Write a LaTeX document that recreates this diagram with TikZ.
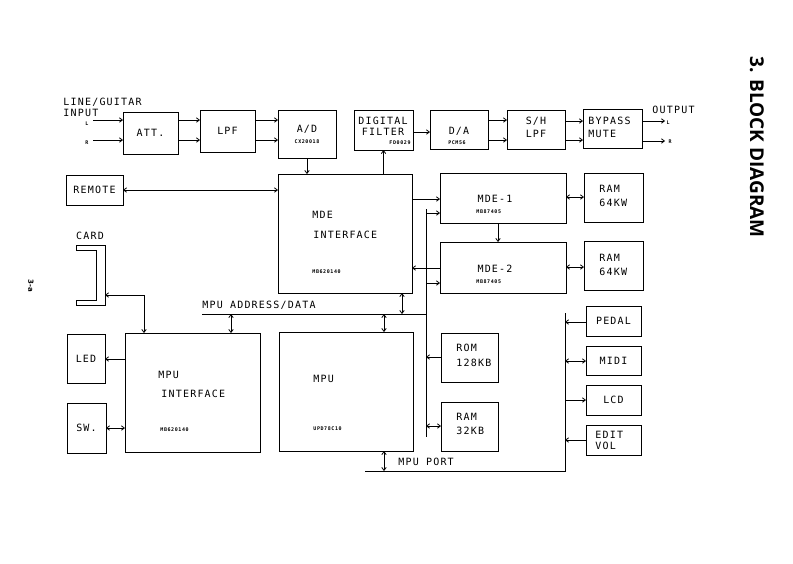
\documentclass[tikz,border=0pt]{standalone}
\usepackage{fontspec}
\usetikzlibrary{arrows.meta}
\newfontfamily\plotfont[LetterSpace=12]{DejaVu Sans Mono}
\newfontfamily\titlefont{Open Sans}
\newfontfamily\pagefont{DejaVu Sans}
\begin{document}
\begin{tikzpicture}[x=1pt,y=-1pt,
  >={Straight Barb[length=3pt,width=4.5pt]},
  box/.style={draw, line width=0.8pt, inner sep=0pt, outer sep=0pt, anchor=north west},
  lbl/.style={font=\plotfont\fontsize{10}{10}\selectfont, inner sep=0pt},
  chip/.style={font=\plotfont\fontsize{5}{5}\selectfont\bfseries, inner sep=0pt},
  every path/.style={line width=0.8pt}]
\fill[white] (0,0) rectangle (793,563);
\useasboundingbox (0,0) rectangle (793,563);

% boxes
\node[box, minimum width=55pt, minimum height=42pt] (att) at (123,112) {};
\node[box, minimum width=55pt, minimum height=42pt] (lpf) at (200,110) {};
\node[box, minimum width=58pt, minimum height=48pt] (ad) at (278,110) {};
\node[box, minimum width=59pt, minimum height=40pt] (df) at (354,110) {};
\node[box, minimum width=58pt, minimum height=39pt] (da) at (430,110) {};
\node[box, minimum width=58pt, minimum height=39pt] (sh) at (507,110) {};
\node[box, minimum width=59pt, minimum height=39pt] (byp) at (583,109) {};
\node[box, minimum width=57pt, minimum height=30pt] (remote) at (66,175) {};
\node[box, minimum width=134pt, minimum height=119pt] (mdeif) at (278,174) {};
\node[box, minimum width=126pt, minimum height=50pt] (mde1) at (440,173) {};
\node[box, minimum width=126pt, minimum height=51pt] (mde2) at (440,242) {};
\node[box, minimum width=59pt, minimum height=49pt] (ram1) at (584,173) {};
\node[box, minimum width=59pt, minimum height=49pt] (ram2) at (584,241) {};
\node[box, minimum width=135pt, minimum height=119pt] (mpuif) at (125,333) {};
\node[box, minimum width=134pt, minimum height=119pt] (mpu) at (279,332) {};
\node[box, minimum width=38pt, minimum height=49pt] (led) at (67,334) {};
\node[box, minimum width=39pt, minimum height=50pt] (sw) at (67,403) {};
\node[box, minimum width=57pt, minimum height=49pt] (rom) at (441,333) {};
\node[box, minimum width=57pt, minimum height=49pt] (ram3) at (441,402) {};
\node[box, minimum width=55pt, minimum height=30pt] (pedal) at (586,306) {};
\node[box, minimum width=55pt, minimum height=29pt] (midi) at (586,346) {};
\node[box, minimum width=55pt, minimum height=30pt] (lcd) at (586,385) {};
\node[box, minimum width=55pt, minimum height=30pt] (edit) at (586,425) {};

% card connector
\draw (76,245) -- (105,245) -- (105,305) -- (76,305) -- (76,300) -- (96,300) -- (96,250) -- (76,250) -- cycle;
\coordinate (card) at (105,295);

% coordinates
\coordinate (inL) at (93,120);
\coordinate (inR) at (93,140);
\coordinate (outL) at (665,121);
\coordinate (outR) at (665,141);
\coordinate (vbT) at (426,209);
\coordinate (vbB) at (426,437);
\coordinate (abL) at (202,314);
\coordinate (abR) at (426,314);
\coordinate (pbL) at (365,471);
\coordinate (pbC) at (565,471);
\coordinate (pbT) at (565,313);

% connectors
\draw[->] (inL) -- (att.west |- inL);
\draw[->] (inR) -- (att.west |- inR);
\draw[->] (att.east |- 0,120) -- (lpf.west |- 0,120);
\draw[->] (att.east |- 0,140) -- (lpf.west |- 0,140);
\draw[->] (lpf.east |- 0,120) -- (ad.west |- 0,120);
\draw[->] (lpf.east |- 0,140) -- (ad.west |- 0,140);
\draw[->] (ad.south) -- (ad.south |- mdeif.north);
\draw[->] (df.south |- mdeif.north) -- (df.south);
\draw[->] (df.east |- 0,132) -- (da.west |- 0,132);
\draw[->] (da.east |- 0,120) -- (sh.west |- 0,120);
\draw[->] (da.east |- 0,140) -- (sh.west |- 0,140);
\draw[->] (sh.east |- 0,121) -- (byp.west |- 0,121);
\draw[->] (sh.east |- 0,140) -- (byp.west |- 0,140);
\draw[->] (byp.east |- outL) -- (outL);
\draw[->] (byp.east |- outR) -- (outR);
\draw[<->] (remote.east |- 0,190) -- (mdeif.west |- 0,190);
\draw[->] (mdeif.east |- 0,199) -- (mde1.west |- 0,199);
\draw (vbT) -- (vbB);
\draw[->] (vbT |- 0,213) -- (mde1.west |- 0,213);
\draw[->] (vbT |- 0,283) -- (mde2.west |- 0,283);
\draw[->] (mde2.west |- 0,268) -- (mdeif.east |- 0,268);
\draw[->] (mde1.south -| 498,0) -- (mde2.north -| 498,0);
\draw[<->] (mde1.east |- 0,197) -- (ram1.west |- 0,197);
\draw[<->] (mde2.east |- 0,267) -- (ram2.west |- 0,267);
\draw (abL) -- (abR);
\draw[<->] (mdeif.south -| 402,0) -- (abR -| 402,0);
\draw[<->] (abL -| 231,0) -- (mpuif.north -| 231,0);
\draw[<->] (abL -| 384,0) -- (mpu.north -| 384,0);
\draw[->] (rom.west |- 0,357) -- (vbB |- 0,357);
\draw[<->] (ram3.west |- 0,426) -- (vbB |- 0,426);
\draw (pbL) -- (pbC) -- (pbT);
\draw[<->] (mpu.south -| 384,0) -- (pbL -| 384,0);
\draw[->] (pedal.west |- 0,322) -- (pbT |- 0,322);
\draw[<->] (midi.west |- 0,361) -- (pbT |- 0,361);
\draw[->] (pbT |- 0,400) -- (lcd.west |- 0,400);
\draw[->] (edit.west |- 0,440) -- (pbT |- 0,440);
\draw[->] (mpuif.west |- 0,359) -- (led.east |- 0,359);
\draw[<->] (sw.east |- 0,428) -- (mpuif.west |- 0,428);
\draw[<->] (card) -| (mpuif.north -| 144,0);

% texts
\node[lbl, anchor=west] (t1) at (63,102) {LINE/GUITAR};
\node[lbl, anchor=west] (t2) at (63,113) {INPUT};
\node[chip] (t3) at (87,124) {L};
\node[chip] (t4) at (87,143) {R};
\node[lbl] (t5) at (att.center) {ATT.};
\node[lbl] (t6) at (lpf.center) {LPF};
\node[lbl] (t7) at (307,129) {A/D};
\node[chip] (t8) at (307,142) {CX20018};
\node[lbl] (t9) at (383,121) {DIGITAL};
\node[lbl] (t10) at (383,132) {FILTER};
\node[chip] (t11) at (400,143) {FD0029};
\node[lbl] (t12) at (459,131) {D/A};
\node[chip] (t13) at (457,143) {PCM56};
\node[lbl] (t14) at (536,121) {S/H};
\node[lbl] (t15) at (536,134) {LPF};
\node[lbl, anchor=west] (t16) at (588,121) {BYPASS};
\node[lbl, anchor=west] (t17) at (588,134) {MUTE};
\node[lbl, anchor=west] (t18) at (652,110) {OUTPUT};
\node[chip] (t19) at (668,123) {L};
\node[chip] (t20) at (670,142) {R};
\node[lbl] (t21) at (remote.center) {REMOTE};
\node[lbl, anchor=west] (t22) at (312,215) {MDE};
\node[lbl, anchor=west] (t23) at (313,235) {INTERFACE};
\node[chip, anchor=west] (t24) at (312,272) {MB620140};
\node[lbl] (t25) at (90,236) {CARD};
\node[lbl, anchor=west] (t26) at (202,305) {MPU ADDRESS/DATA};
\node[lbl] (t27) at (495,199) {MDE-1};
\node[chip, anchor=west] (t28) at (476,212) {MB87405};
\node[lbl] (t29) at (495,269) {MDE-2};
\node[chip, anchor=west] (t30) at (476,282) {MB87405};
\node[lbl, anchor=west] (t31) at (599,189) {RAM};
\node[lbl, anchor=west] (t32) at (599,203) {64KW};
\node[lbl, anchor=west] (t33) at (599,258) {RAM};
\node[lbl, anchor=west] (t34) at (599,272) {64KW};
\node[lbl] (t35) at (led.center) {LED};
\node[lbl] (t36) at (sw.center) {SW.};
\node[lbl, anchor=west] (t37) at (158,375) {MPU};
\node[lbl, anchor=west] (t38) at (161,394) {INTERFACE};
\node[chip, anchor=west] (t39) at (160,430) {MB620140};
\node[lbl, anchor=west] (t40) at (313,379) {MPU};
\node[chip, anchor=west] (t41) at (313,429) {UPD78C10};
\node[lbl, anchor=west] (t42) at (398,462) {MPU PORT};
\node[lbl, anchor=west] (t43) at (456,348) {ROM};
\node[lbl, anchor=west] (t44) at (456,363) {128KB};
\node[lbl, anchor=west] (t45) at (456,417) {RAM};
\node[lbl, anchor=west] (t46) at (456,431) {32KB};
\node[lbl] (t47) at (pedal.center) {PEDAL};
\node[lbl] (t48) at (midi.center) {MIDI};
\node[lbl] (t49) at (lcd.center) {LCD};
\node[lbl, anchor=west] (t50) at (595,435) {EDIT};
\node[lbl, anchor=west] (t51) at (595,446) {VOL};

\node[font=\titlefont\bfseries\fontsize{19}{19}\selectfont, rotate=-90, inner sep=0pt] (title) at (757,147) {3. BLOCK DIAGRAM};
\node[font=\pagefont\bfseries\fontsize{7}{7}\selectfont, rotate=-90, inner sep=0pt] (page) at (31,286) {3-a};
\end{tikzpicture}
\end{document}
